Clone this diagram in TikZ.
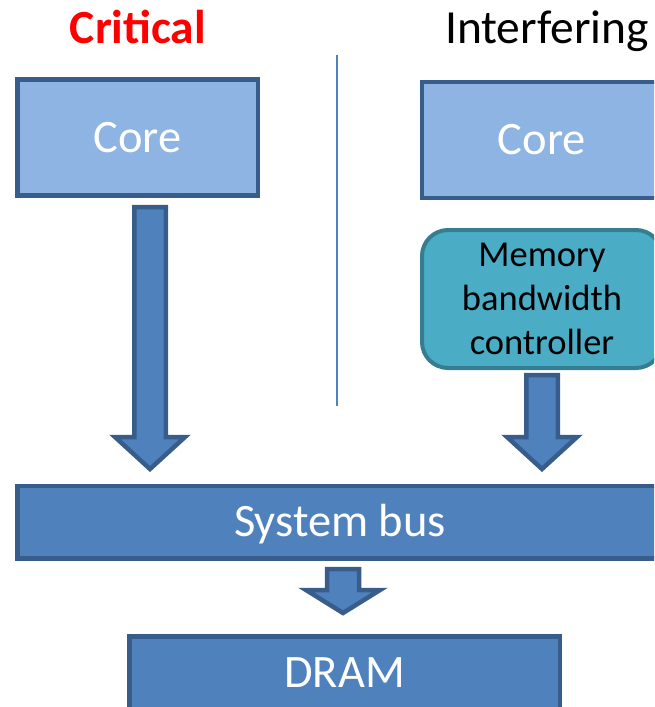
\documentclass[tikz,border=0pt]{standalone}
\usepackage{fontspec}
\setmainfont{Carlito}
\usetikzlibrary{calc}

\definecolor{boxblue}{HTML}{4F81BD}
\definecolor{boxedge}{HTML}{385D8A}
\definecolor{corefill}{HTML}{8EB4E3}
\definecolor{ctrlfill}{HTML}{4BACC6}
\definecolor{ctrledge}{HTML}{357D91}
\definecolor{critred}{HTML}{FF0000}

\tikzset{
  unitbox/.style={draw=boxedge, line width=4.5pt, fill=boxblue, text=white,
    inner sep=0pt, text height=29.8pt, text depth=0pt,
    font=\fontsize{46.5}{55}\selectfont},
  corebox/.style={unitbox, fill=corefill, minimum width=240.5pt, minimum height=116pt},
  ctrlbox/.style={draw=ctrledge, line width=4pt, fill=ctrlfill, text=black,
    rounded corners=26pt, inner sep=0pt, minimum width=240pt, minimum height=138pt,
    align=center, font=\fontsize{36.5}{44}\selectfont},
  title/.style={inner sep=0pt, anchor=base, font=\fontsize{47.5}{56}\selectfont},
  arrowbody/.style={draw=boxedge, line width=4.5pt, fill=boxblue, line join=miter},
  divider/.style={draw=boxblue, line width=1.5pt},
}

% vertical block arrow from #1 down to tip #2:
% shaft half-width #3, head half-width #4, head length #5
\newcommand\blockarrow[5]{%
  \draw[arrowbody] ($(#1)+(-#3,0)$) -- ($(#1)+(#3,0)$) -- ($(#2)+(#3,-#5)$)
    -- ($(#2)+(#4,-#5)$) -- (#2) -- ($(#2)+(-#4,-#5)$) -- ($(#2)+(-#3,-#5)$) -- cycle;}

\begin{document}
\begin{tikzpicture}[x=1pt, y=-1pt]
  \useasboundingbox (0,0) rectangle (654,707);
  \clip (0,0) rectangle (654,707);

  % column headings
  \node[title, text=critred, font=\fontsize{47.5}{56}\selectfont\bfseries] (hcrit) at (138,43) {Critical};
  \node[title] (hint) at (547,43) {Interfering};

  % separator between the two columns
  \coordinate (div-top) at (337,55);
  \coordinate (div-bot) at (337,406);
  \draw[divider] (div-top) -- (div-bot);

  % cores and the bandwidth controller
  \node[corebox] (coreL) at (137.5,137.5) {Core};
  \node[corebox] (coreR) at (542,140) {Core};
  \node[ctrlbox] (ctrl) at (542,299) {Memory\\bandwidth\\controller};

  % shared bus and memory
  \node[unitbox, minimum width=645.5pt, minimum height=72.5pt] (bus) at (340,522) {System bus};
  \node[unitbox, minimum width=430.5pt, minimum height=73.5pt] (dram) at (344.5,673) {DRAM};

  % traffic arrows
  \coordinate (aL-top) at (150,207);
  \coordinate (aL-tip) at (150,469);
  \coordinate (aR-top) at (542,375);
  \coordinate (aR-tip) at (542,469);
  \coordinate (aB-top) at (343,569);
  \coordinate (aB-tip) at (343,613);
  \blockarrow{aL-top}{aL-tip}{15.75}{35}{32}
  \blockarrow{aR-top}{aR-tip}{15.75}{35}{32}
  \blockarrow{aB-top}{aB-tip}{16}{37}{23}
\end{tikzpicture}
\end{document}
